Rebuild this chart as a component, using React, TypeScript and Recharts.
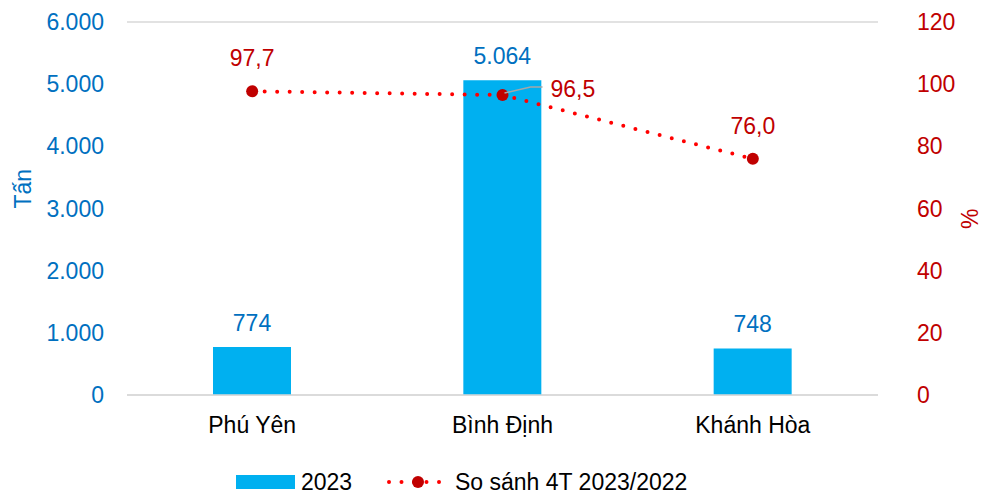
import {
  ComposedChart,
  Bar,
  Line,
  XAxis,
  YAxis,
  CartesianGrid,
  LabelList,
  Legend,
} from "recharts"

const provinces = ["Phú Yên", "Bình Định", "Khánh Hòa"]
const tons2023 = [774, 5064, 748]
const comparePct = [97.7, 96.5, 76.0]
const leftTicks = [0, 1000, 2000, 3000, 4000, 5000, 6000]
const rightTicks = [0, 20, 40, 60, 80, 100, 120]

const chartData = provinces.map((name, i) => ({
  name,
  tons: tons2023[i],
  pct: comparePct[i],
}))

const FONT = "'Liberation Sans', Arial, sans-serif"
const FS = 23
const BLUE = "#00B0F0"
const BLUE_TEXT = "#0070C0"
const RED_TEXT = "#C00000"
const RED_LINE = "#FF0000"

const fmtThousands = (v: number) => v.toLocaleString("de-DE")
const fmtPct = (v: number) => v.toFixed(1).replace(".", ",")

function PctLabel(props: any) {
  const { x, y, value, index } = props
  if (index === 1) {
    return (
      <g>
        <polyline
          points={`${x + 2},${y - 2} ${x + 28},${y - 8} ${x + 40},${y - 8}`}
          fill="none"
          stroke="#A6A6A6"
          strokeWidth={1.5}
        />
        <text x={x + 48} y={y + 2} fill={RED_TEXT} fontSize={FS} fontFamily={FONT}>
          {fmtPct(value)}
        </text>
      </g>
    )
  }
  return (
    <text x={x} y={y - 25} fill={RED_TEXT} fontSize={FS} fontFamily={FONT} textAnchor="middle">
      {fmtPct(value)}
    </text>
  )
}

function LegendContent() {
  return (
    <svg width={982} height={40} style={{ display: "block" }}>
      <rect x={236} y={21} width={59} height={14} fill={BLUE} />
      <text x={301} y={36} fontSize={FS} fontFamily={FONT} fill="#000">2023</text>
      <line
        x1={389}
        y1={28}
        x2={446}
        y2={28}
        stroke={RED_LINE}
        strokeWidth={4}
        strokeLinecap="round"
        strokeDasharray="0 12.5"
      />
      <circle cx={418} cy={28} r={6} fill={RED_TEXT} />
      <text x={455} y={36} fontSize={FS} fontFamily={FONT} fill="#000">So sánh 4T 2023/2022</text>
    </svg>
  )
}

export default function App() {
  return (
    <div style={{ position: "absolute", left: 0, top: 0, background: "#fff" }}>
      <ComposedChart
        width={982}
        height={494}
        data={chartData}
        margin={{ top: 22, right: 0, left: 0, bottom: 0 }}
      >
        <CartesianGrid vertical={false} stroke="#D9D9D9" strokeWidth={1.5} />
        <XAxis
          dataKey="name"
          axisLine={{ stroke: "#D9D9D9", strokeWidth: 1.5 }}
          tickLine={false}
          height={99 - 40}
          tickMargin={16}
          tick={{ fill: "#000", fontSize: FS, fontFamily: FONT }}
        />
        <YAxis
          yAxisId="left"
          width={127}
          domain={[0, 6000]}
          ticks={leftTicks}
          tickFormatter={fmtThousands}
          axisLine={false}
          tickLine={false}
          tickMargin={17}
          tick={{ fill: BLUE_TEXT, fontSize: FS, fontFamily: FONT }}
          label={{
            value: "Tấn",
            angle: -90,
            position: "insideLeft",
            offset: 23,
            fill: BLUE_TEXT,
            fontSize: FS,
            fontFamily: FONT,
          }}
        />
        <YAxis
          yAxisId="right"
          orientation="right"
          width={104}
          domain={[0, 120]}
          ticks={rightTicks}
          axisLine={false}
          tickLine={false}
          tickMargin={33}
          tick={{ fill: RED_TEXT, fontSize: FS, fontFamily: FONT, textAnchor: "start" }}
          label={{
            value: "%",
            angle: -90,
            position: "insideRight",
            offset: 12,
            fill: RED_TEXT,
            fontSize: FS,
            fontFamily: FONT,
          }}
        />
        <Legend verticalAlign="bottom" height={40} content={<LegendContent />} />
        <Bar yAxisId="left" dataKey="tons" fill={BLUE} barSize={78} isAnimationActive={false}>
          <LabelList
            dataKey="tons"
            position="top"
            offset={16}
            formatter={(v: any) => fmtThousands(Number(v))}
            fill={BLUE_TEXT}
            fontSize={FS}
            fontFamily={FONT}
          />
        </Bar>
        <Line
          yAxisId="right"
          dataKey="pct"
          stroke={RED_LINE}
          strokeWidth={4}
          strokeLinecap="round"
          strokeDasharray="0 12.5"
          dot={{ r: 6, fill: RED_TEXT, stroke: RED_TEXT, strokeWidth: 0 }}
          activeDot={false}
          isAnimationActive={false}
        >
          <LabelList dataKey="pct" content={<PctLabel />} />
        </Line>
      </ComposedChart>
    </div>
  )
}
